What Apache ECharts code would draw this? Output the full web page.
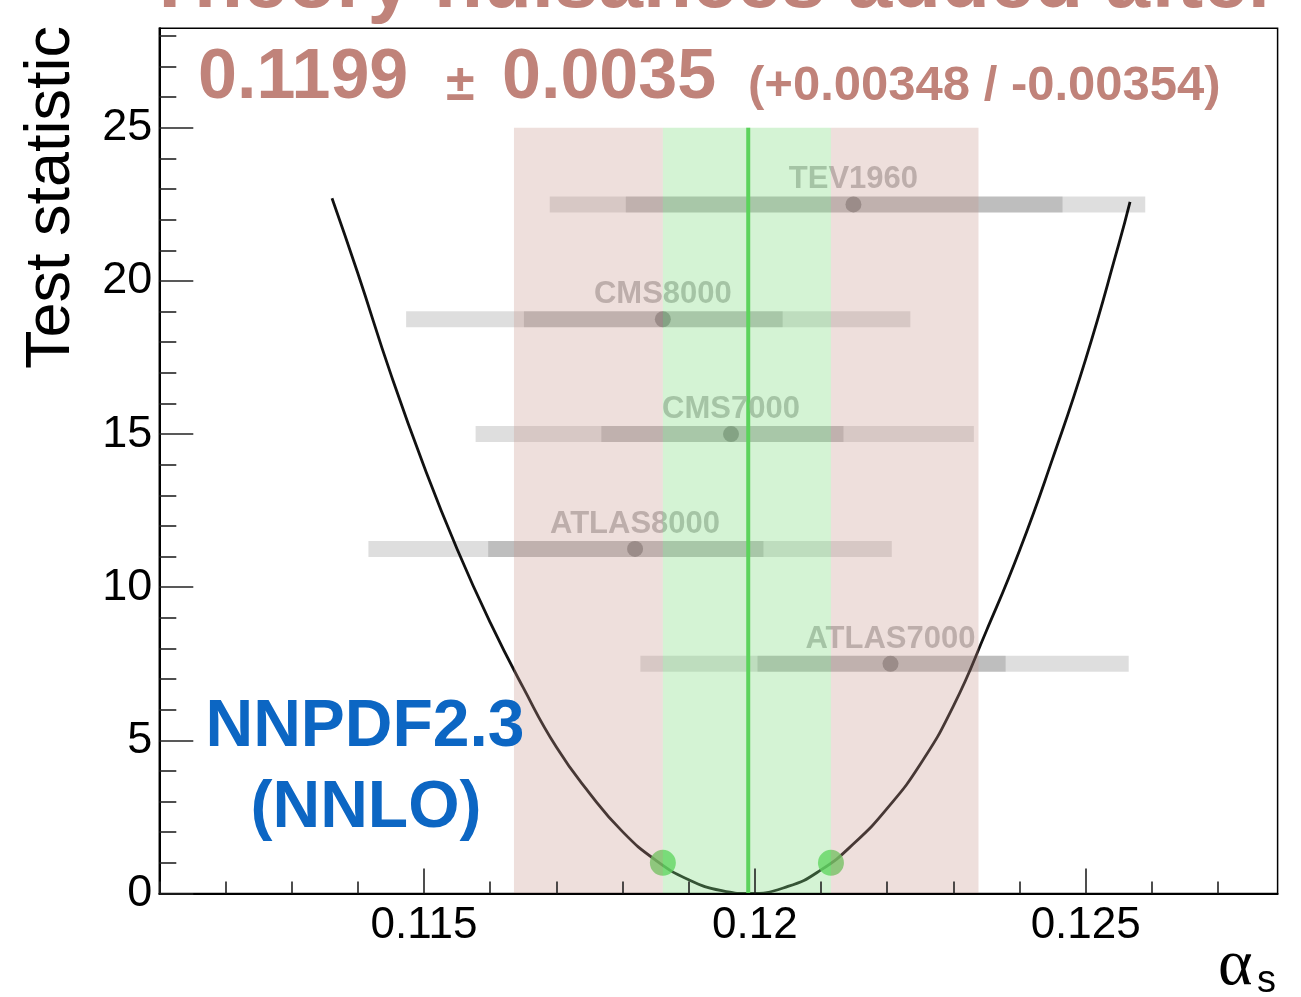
<!DOCTYPE html>
<html>
<head>
<meta charset="utf-8">
<title>alpha_s scan - NNPDF2.3 (NNLO)</title>
<script src="https://cdn.jsdelivr.net/npm/echarts@6/dist/echarts.min.js"></script>
<style>
  html, body { margin: 0; padding: 0; background: #ffffff; }
  #chart { width: 1301px; height: 997px; }
</style>
</head>
<body>
<div id="chart"></div>
<script>
// ---- axis ranges and ticks ----
const alphaMin = 0.111;
const alphaMax = 0.1279;
const statMin = 0;
const statMax = 28.25;
const xMajorTicks = [0.115, 0.12, 0.125];
const xMinorTicks = [0.111, 0.112, 0.113, 0.114, 0.116, 0.117, 0.118, 0.119,
                     0.121, 0.122, 0.123, 0.124, 0.126, 0.127];
const yMajorTicks = [0, 5, 10, 15, 20, 25];
const yMinorTicks = [1, 2, 3, 4, 6, 7, 8, 9, 11, 12, 13, 14, 16, 17, 18, 19,
                     21, 22, 23, 24, 26, 27, 28];

// ---- combined fit result ----
const bestFit = 0.1199;
const errPlus = 0.00348;
const errMinus = 0.00354;
const fitLo = 0.11861;   // test statistic = 1 crossings
const fitHi = 0.12115;
const crossLevel = 1;
const bandTop = 25;

// ---- test statistic scan (alpha_s, value) ----
const scanAlpha = [0.11361, 0.1140, 0.1145, 0.1150, 0.1155, 0.1160, 0.1165, 0.1170,
                   0.1175, 0.1180, 0.1185, 0.1190, 0.1195, 0.1199, 0.1205, 0.1210,
                   0.1215, 0.1220, 0.1225, 0.1230, 0.1235, 0.1240, 0.1245, 0.1250,
                   0.1255, 0.12567];
const scanStat  = [22.70, 20.25, 16.95, 13.95, 11.25, 8.85, 6.72, 4.78,
                   3.28, 2.02, 1.09, 0.45, 0.09, 0.00, 0.23, 0.77,
                   1.64, 2.78, 4.22, 6.12, 8.58, 11.20, 14.20, 17.45,
                   21.20, 22.58];

// ---- individual experiments ----
const experiments = ['TEV1960', 'CMS8000', 'CMS7000', 'ATLAS8000', 'ATLAS7000'];
const expRow      = [22.5, 18.75, 15, 11.25, 7.5];
const expCentral  = [0.12149, 0.11861, 0.11964, 0.11819, 0.12205];
const expInnerLo  = [0.11805, 0.11651, 0.11768, 0.11597, 0.12004];
const expInnerHi  = [0.12465, 0.12042, 0.12134, 0.12013, 0.12379];
const expOuterLo  = [0.11690, 0.11473, 0.11578, 0.11416, 0.11827];
const expOuterHi  = [0.12590, 0.12235, 0.12331, 0.12207, 0.12565];

// ---- text ----
const titleText = 'Theory nuisances added after';
const fitText = '0.1199';
const errText = '0.0035';
const asymText = '(+0.00348 / -0.00354)';
const pdfLine1 = 'NNPDF2.3';
const pdfLine2 = '(NNLO)';
const yName = 'Test statistic';

const FONT = "'Liberation Sans', Arial, Helvetica, sans-serif";
const SERIF = "'Liberation Serif', 'DejaVu Serif', serif";
const BROWN = '#c0837a';
const BLUE = '#0c66c3';

const chart = echarts.init(document.getElementById('chart'), null, { renderer: 'canvas' });

// horizontal error bar drawn between two alpha values at a fixed row
function rectBars(height, fill) {
  return function (params, api) {
    const lo = api.coord([api.value(0), api.value(2)]);
    const hi = api.coord([api.value(1), api.value(2)]);
    return {
      type: 'rect',
      shape: { x: lo[0], y: lo[1] - height / 2, width: hi[0] - lo[0], height: height },
      style: { fill: fill }
    };
  };
}

// vertical band from the x axis up to a given height
function bandRect(fill) {
  return function (params, api) {
    const tl = api.coord([api.value(0), api.value(2)]);
    const br = api.coord([api.value(1), 0]);
    return {
      type: 'rect',
      shape: { x: tl[0], y: tl[1], width: br[0] - tl[0], height: br[1] - tl[1] },
      style: { fill: fill }
    };
  };
}

const outerBars = experiments.map((n, i) => [expOuterLo[i], expOuterHi[i], expRow[i]]);
const innerBars = experiments.map((n, i) => [expInnerLo[i], expInnerHi[i], expRow[i]]);
const expPoints = experiments.map((n, i) => ({ name: n, value: [expCentral[i], expRow[i]] }));
const pinkBands = [[bestFit - errMinus, fitLo, bandTop], [fitHi, bestFit + errPlus, bandTop]];
const greenBand = [[fitLo, fitHi, bandTop]];

const option = {
  animation: false,
  backgroundColor: '#ffffff',
  grid: {
    left: 159.3, top: 28.3, width: 1118.3, height: 865.2,
    show: true, borderColor: '#000', borderWidth: 1.5, containLabel: false
  },
  xAxis: [
    {
      type: 'value', min: alphaMin, max: alphaMax, position: 'bottom', z: 10,
      axisLine: { show: true, onZero: false, lineStyle: { color: '#000', width: 2 } },
      axisTick: { show: true, inside: true, length: 12, customValues: xMinorTicks,
                  lineStyle: { color: '#222', width: 1.6 } },
      axisLabel: { show: false },
      splitLine: { show: false }
    },
    {
      type: 'value', min: alphaMin, max: alphaMax, position: 'bottom', z: 10,
      axisLine: { show: false, onZero: false },
      axisTick: { show: true, inside: true, length: 25, customValues: xMajorTicks,
                  lineStyle: { color: '#222', width: 1.6 } },
      axisLabel: { show: true, customValues: xMajorTicks, margin: 10,
                   fontSize: 44, color: '#000', fontFamily: FONT,
                   formatter: v => String(+v.toFixed(4)) },
      splitLine: { show: false }
    }
  ],
  yAxis: [
    {
      type: 'value', min: statMin, max: statMax, position: 'left', z: 10,
      axisLine: { show: true, onZero: false, lineStyle: { color: '#000', width: 2 } },
      axisTick: { show: true, inside: true, length: 17, customValues: yMinorTicks,
                  lineStyle: { color: '#222', width: 1.6 } },
      axisLabel: { show: false },
      splitLine: { show: false }
    },
    {
      type: 'value', min: statMin, max: statMax, position: 'left', z: 10,
      axisLine: { show: false, onZero: false },
      axisTick: { show: true, inside: true, length: 34, customValues: yMajorTicks,
                  lineStyle: { color: '#222', width: 1.6 } },
      axisLabel: { show: true, customValues: yMajorTicks, margin: 7,
                   fontSize: 45, color: '#000', fontFamily: FONT },
      splitLine: { show: false }
    }
  ],
  series: [
    {
      name: 'scan', type: 'line', z: 2, smooth: 0.5, symbol: 'none',
      data: scanAlpha.map((a, i) => [a, scanStat[i]]),
      lineStyle: { color: '#111', width: 2.8 }
    },
    {
      name: 'outer', type: 'custom', z: 3, renderItem: rectBars(16, 'rgba(0,0,0,0.13)'),
      encode: { x: [0, 1], y: 2 }, data: outerBars
    },
    {
      name: 'inner', type: 'custom', z: 3, renderItem: rectBars(16, 'rgba(0,0,0,0.14)'),
      encode: { x: [0, 1], y: 2 }, data: innerBars
    },
    {
      name: 'experiments', type: 'scatter', z: 4, symbol: 'circle', symbolSize: 16,
      itemStyle: { color: '#7a7a7a' },
      label: { show: true, position: 'top', distance: 1, formatter: '{b}',
               fontSize: 31, fontWeight: 'bold', color: '#a8a8a8', fontFamily: FONT },
      data: expPoints
    },
    {
      name: 'best fit', type: 'line', z: 4, symbol: 'none',
      data: [[bestFit, 0], [bestFit, bandTop]],
      lineStyle: { color: '#4ccf4c', width: 4 }
    },
    {
      name: 'crossings', type: 'scatter', z: 4, symbol: 'circle', symbolSize: 26,
      itemStyle: { color: '#55d455' },
      data: [[fitLo, crossLevel], [fitHi, crossLevel]]
    },
    {
      name: 'total uncertainty', type: 'custom', z: 6,
      renderItem: bandRect('rgba(198,148,138,0.3)'),
      encode: { x: [0, 1], y: 2 }, data: pinkBands
    },
    {
      name: 'fit uncertainty', type: 'custom', z: 6,
      renderItem: bandRect('rgba(126,219,126,0.333)'),
      encode: { x: [0, 1], y: 2 }, data: greenBand
    }
  ],
  graphic: [
    { type: 'text', z: 20, x: 712, y: -15,
      style: { text: titleText, fill: BROWN, font: `bold 80px ${FONT}`, align: 'center', verticalAlign: 'middle' } },
    { type: 'text', z: 20, x: 198, y: 79,
      style: { text: fitText, fill: BROWN, font: `bold 70px ${FONT}`, align: 'left', verticalAlign: 'middle' } },
    { type: 'text', z: 20, x: 446, y: 86,
      style: { text: '±', fill: BROWN, font: `bold 52px ${FONT}`, align: 'left', verticalAlign: 'middle' } },
    { type: 'text', z: 20, x: 502, y: 79,
      style: { text: errText, fill: BROWN, font: `bold 70px ${FONT}`, align: 'left', verticalAlign: 'middle' } },
    { type: 'text', z: 20, x: 748, y: 86,
      style: { text: asymText, fill: BROWN, font: `bold 49px ${FONT}`, align: 'left', verticalAlign: 'middle' } },
    { type: 'text', z: 20, x: 365, y: 728,
      style: { text: pdfLine1, fill: BLUE, font: `bold 66px ${FONT}`, align: 'center', verticalAlign: 'middle' } },
    { type: 'text', z: 20, x: 366, y: 809,
      style: { text: pdfLine2, fill: BLUE, font: `bold 66px ${FONT}`, align: 'center', verticalAlign: 'middle' } },
    { type: 'text', z: 20, x: 52, y: 26, rotation: Math.PI / 2,
      style: { text: yName, fill: '#000', font: `63px ${FONT}`, align: 'right', verticalAlign: 'middle' } },
    { type: 'text', z: 20, x: 1218, y: 967,
      style: { text: 'α', fill: '#000', font: `66px ${SERIF}`, align: 'left', verticalAlign: 'middle' } },
    { type: 'text', z: 20, x: 1257, y: 982,
      style: { text: 's', fill: '#000', font: `38px ${FONT}`, align: 'left', verticalAlign: 'middle' } }
  ]
};

chart.setOption(option);
</script>
</body>
</html>
